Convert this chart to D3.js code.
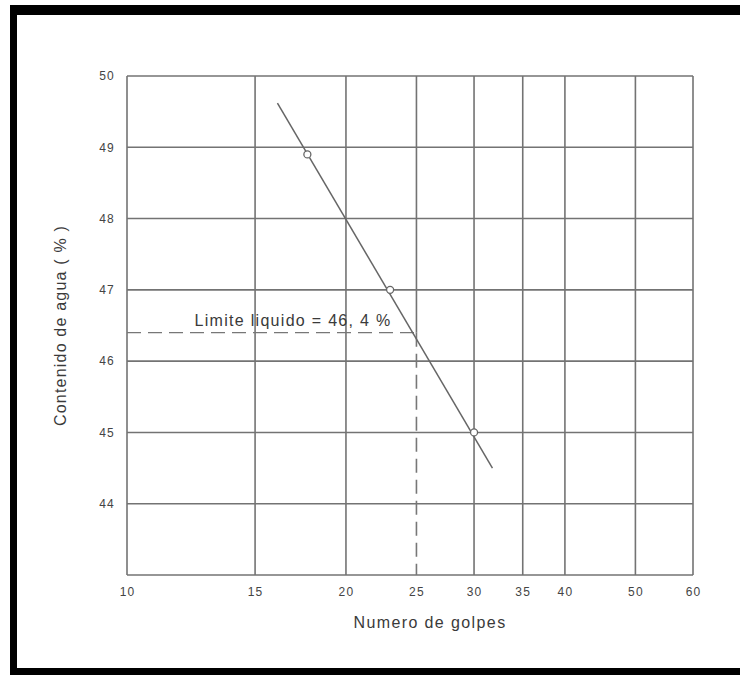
<!DOCTYPE html>
<html>
<head>
<meta charset="utf-8">
<script src="https://cdn.jsdelivr.net/npm/d3@7"></script>
<style>
  body { margin: 0; background: #fff; }
  svg { display: block; }
  text { font-family: "Liberation Sans", Arial, sans-serif; }
</style>
</head>
<body>
<script>
// tick values
var golpesTicks = [10, 15, 20, 25, 30, 35, 40, 50, 60];
var aguaTicks = [44, 45, 46, 47, 48, 49, 50];

// measured points
var puntosGolpes = [17.7, 23, 30];
var puntosAgua = [48.9, 47.0, 45.0];

// fitted line ends
var rectaGolpes = [16.1, 31.8];
var rectaAgua = [49.62, 44.5];

// liquid limit
var limiteGolpes = 25;
var limiteAgua = 46.4;
var limiteTexto = 'Limite liquido = 46, 4 %';

var screen = { width: 740, height: 675 };
var plotBox = { left: 127, top: 76, right: 693, bottom: 575 };

var svg = d3.select('body')
            .append('svg')
            .attr('width', screen.width)
            .attr('height', screen.height);

// black frame (left, top, bottom)
svg.append('rect').attr('x', 10).attr('y', 5).attr('width', 730).attr('height', 670).attr('fill', '#000');
svg.append('rect').attr('x', 17).attr('y', 15).attr('width', 723).attr('height', 653).attr('fill', '#fff');

var xScale = d3.scaleLog()
               .domain([10, 60])
               .range([plotBox.left, plotBox.right]);

var yScale = d3.scaleLinear()
               .domain([43, 50])
               .range([plotBox.bottom, plotBox.top]);

var gridColor = '#737373';
var grid = svg.append('g').attr('class', 'grid');

// vertical grid lines (25 stops at the limit, dashed below)
grid.selectAll('line.v')
    .data(golpesTicks)
    .enter()
    .append('line')
    .attr('x1', function(d){ return xScale(d); })
    .attr('x2', function(d){ return xScale(d); })
    .attr('y1', yScale(50))
    .attr('y2', function(d){ return d === limiteGolpes ? yScale(limiteAgua) : yScale(43); })
    .attr('stroke', gridColor)
    .attr('stroke-width', 1.6);

// horizontal grid lines
grid.selectAll('line.h')
    .data([43].concat(aguaTicks))
    .enter()
    .append('line')
    .attr('x1', xScale(10))
    .attr('x2', xScale(60))
    .attr('y1', function(d){ return yScale(d); })
    .attr('y2', function(d){ return yScale(d); })
    .attr('stroke', gridColor)
    .attr('stroke-width', 1.6);

// dashed guides for the liquid limit
svg.append('line')
   .attr('x1', xScale(10)).attr('x2', xScale(limiteGolpes))
   .attr('y1', yScale(limiteAgua)).attr('y2', yScale(limiteAgua))
   .attr('stroke', '#777').attr('stroke-width', 1.4)
   .attr('stroke-dasharray', '14,7');
svg.append('line')
   .attr('x1', xScale(limiteGolpes)).attr('x2', xScale(limiteGolpes))
   .attr('y1', yScale(limiteAgua)).attr('y2', yScale(43))
   .attr('stroke', '#777').attr('stroke-width', 1.6)
   .attr('stroke-dasharray', '14,7');

// fitted line
svg.append('line')
   .attr('x1', xScale(rectaGolpes[0])).attr('y1', yScale(rectaAgua[0]))
   .attr('x2', xScale(rectaGolpes[1])).attr('y2', yScale(rectaAgua[1]))
   .attr('stroke', '#666').attr('stroke-width', 1.5);

// points
svg.selectAll('circle.pt')
   .data(puntosGolpes)
   .enter()
   .append('circle')
   .attr('cx', function(d){ return xScale(d); })
   .attr('cy', function(d, i){ return yScale(puntosAgua[i]); })
   .attr('r', 3.5)
   .attr('fill', '#fff')
   .attr('stroke', '#666')
   .attr('stroke-width', 1.3);

// axes labels
var xAxis = d3.axisBottom(xScale)
              .tickValues(golpesTicks)
              .tickFormat(d3.format('d'))
              .tickSize(0)
              .tickPadding(12);
var gx = svg.append('g')
            .attr('transform', 'translate(0,' + plotBox.bottom + ')')
            .call(xAxis);
gx.select('.domain').remove();
gx.selectAll('text').attr('fill', '#444').style('font-size', '12px').style('letter-spacing', '1.2px');

var yAxis = d3.axisLeft(yScale)
              .tickValues(aguaTicks)
              .tickFormat(d3.format('d'))
              .tickSize(0)
              .tickPadding(12);
var gy = svg.append('g')
            .attr('transform', 'translate(' + plotBox.left + ',0)')
            .call(yAxis);
gy.select('.domain').remove();
gy.selectAll('text').attr('fill', '#444').style('font-size', '12px').style('letter-spacing', '1.2px');

// titles
svg.append('text')
   .attr('x', 430)
   .attr('y', 628)
   .attr('text-anchor', 'middle')
   .attr('fill', '#3a3a3a')
   .style('font-size', '16px')
   .style('letter-spacing', '1.4px')
   .text('Numero de golpes');

svg.append('text')
   .attr('transform', 'translate(66,' + yScale(46.5) + ') rotate(-90)')
   .attr('text-anchor', 'middle')
   .attr('fill', '#3a3a3a')
   .style('font-size', '16px')
   .style('letter-spacing', '1.2px')
   .text('Contenido de agua ( % )');

svg.append('text')
   .attr('x', 293)
   .attr('y', yScale(limiteAgua) - 7)
   .attr('text-anchor', 'middle')
   .attr('fill', '#3a3a3a')
   .style('font-size', '16px')
   .style('letter-spacing', '1.3px')
   .text(limiteTexto);
</script>
</body>
</html>
